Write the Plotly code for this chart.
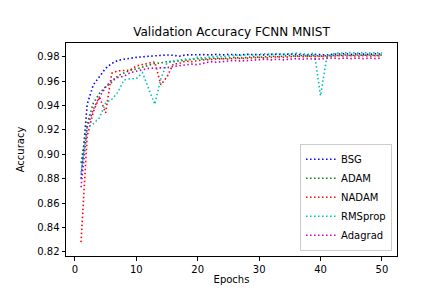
import plotly.graph_objects as go

epochs = list(range(1, 51))

bsg = [0.880, 0.941, 0.957, 0.964, 0.9705, 0.9745, 0.977, 0.978, 0.979, 0.9795,
       0.980, 0.9805, 0.981, 0.9812, 0.9815, 0.9812, 0.9805, 0.9815, 0.9818, 0.9815,
       0.9818, 0.9815, 0.982, 0.9815, 0.982, 0.9818, 0.9815, 0.982, 0.9818, 0.982,
       0.9815, 0.982, 0.9818, 0.982, 0.9822, 0.9818, 0.982, 0.9815, 0.982, 0.9818,
       0.9815, 0.982, 0.9822, 0.9825, 0.982, 0.9825, 0.9822, 0.982, 0.9825, 0.9822]

adam = [0.893, 0.925, 0.942, 0.950, 0.9555, 0.959, 0.9645, 0.967, 0.969, 0.970,
        0.9715, 0.9725, 0.9745, 0.975, 0.976, 0.976, 0.9765, 0.9775, 0.978, 0.9785,
        0.978, 0.9785, 0.979, 0.9785, 0.979, 0.9795, 0.979, 0.9795, 0.980, 0.9795,
        0.980, 0.9805, 0.980, 0.9805, 0.981, 0.9805, 0.981, 0.9805, 0.981, 0.9805,
        0.981, 0.9812, 0.981, 0.9815, 0.981, 0.9815, 0.9812, 0.9815, 0.981, 0.9815]

nadam = [0.828, 0.915, 0.935, 0.947, 0.934, 0.9665, 0.9685, 0.969, 0.969, 0.9725,
         0.9735, 0.975, 0.9758, 0.957, 0.9635, 0.974, 0.9745, 0.9765, 0.976, 0.977,
         0.9775, 0.978, 0.978, 0.9785, 0.978, 0.979, 0.9785, 0.979, 0.979, 0.9795,
         0.979, 0.9795, 0.980, 0.9795, 0.980, 0.9805, 0.980, 0.9805, 0.980, 0.9805,
         0.980, 0.9805, 0.981, 0.9805, 0.981, 0.9805, 0.981, 0.9805, 0.981, 0.9805]

rmsprop = [0.885, 0.922, 0.925, 0.930, 0.942, 0.945, 0.951, 0.961, 0.962, 0.962,
           0.967, 0.954, 0.941, 0.962, 0.975, 0.9765, 0.9775, 0.978, 0.978, 0.9795,
           0.979, 0.980, 0.9805, 0.980, 0.981, 0.9815, 0.981, 0.982, 0.9815, 0.982,
           0.9825, 0.982, 0.9825, 0.982, 0.9825, 0.983, 0.9825, 0.982, 0.983, 0.948,
           0.979, 0.9825, 0.983, 0.9835, 0.9835, 0.983, 0.9835, 0.983, 0.9835, 0.983]

adagrad = [0.873, 0.922, 0.937, 0.947, 0.955, 0.961, 0.963, 0.964, 0.967, 0.968,
           0.969, 0.9705, 0.9708, 0.9708, 0.971, 0.972, 0.9725, 0.9735, 0.974, 0.9735,
           0.975, 0.976, 0.9755, 0.976, 0.9765, 0.977, 0.9765, 0.977, 0.9775, 0.9775,
           0.978, 0.9775, 0.978, 0.9775, 0.978, 0.9785, 0.978, 0.9785, 0.978, 0.9785,
           0.9785, 0.979, 0.9785, 0.979, 0.9785, 0.979, 0.9785, 0.979, 0.9785, 0.979]

series = [("BSG", bsg, "#0000ff"), ("ADAM", adam, "#008000"), ("NADAM", nadam, "#ff0000"),
          ("RMSprop", rmsprop, "#00bfbf"), ("Adagrad", adagrad, "#bf00bf")]

x_ticks = [0, 10, 20, 30, 40, 50]
y_ticks = [0.82, 0.84, 0.86, 0.88, 0.90, 0.92, 0.94, 0.96, 0.98]

fig = go.Figure()
for name, vals, col in series:
    fig.add_trace(go.Scatter(x=epochs, y=vals, name=name, mode="lines",
                             line=dict(color=col, width=1.6, dash="1.5px,2.5px")))

font = dict(family="DejaVu Sans", size=10, color="black")
axis_common = dict(showgrid=False, zeroline=False, showline=True, linecolor="black",
                   linewidth=1, mirror=True, ticks="outside", ticklen=3.5, tickwidth=1,
                   tickcolor="black", tickfont=font)

fig.update_layout(
    width=432, height=288,
    margin=dict(l=54, r=43, t=35, b=32),
    plot_bgcolor="white", paper_bgcolor="white",
    font=font,
    title=dict(text="Validation Accuracy FCNN MNIST", x=0.5, xref="paper",
               y=1 - 24 / 288, yref="container", yanchor="middle",
               font=dict(family="DejaVu Sans", size=12, color="black")),
    xaxis=dict(range=[-1.45, 52.45], tickvals=x_ticks,
               title=dict(text="Epochs", font=font, standoff=2), **axis_common),
    yaxis=dict(range=[0.8166, 0.9913], tickvals=y_ticks,
               ticktext=[f"{v:.2f}" for v in y_ticks],
               title=dict(text="Accuracy", font=font, standoff=10), **axis_common),
    legend=dict(x=0.985, y=0.025, xanchor="right", yanchor="bottom",
                bgcolor="rgba(255,255,255,0.8)", bordercolor="#cccccc", borderwidth=1,
                font=font, itemwidth=30, tracegroupgap=0),
    showlegend=True,
)

fig.write_html("out.html")
